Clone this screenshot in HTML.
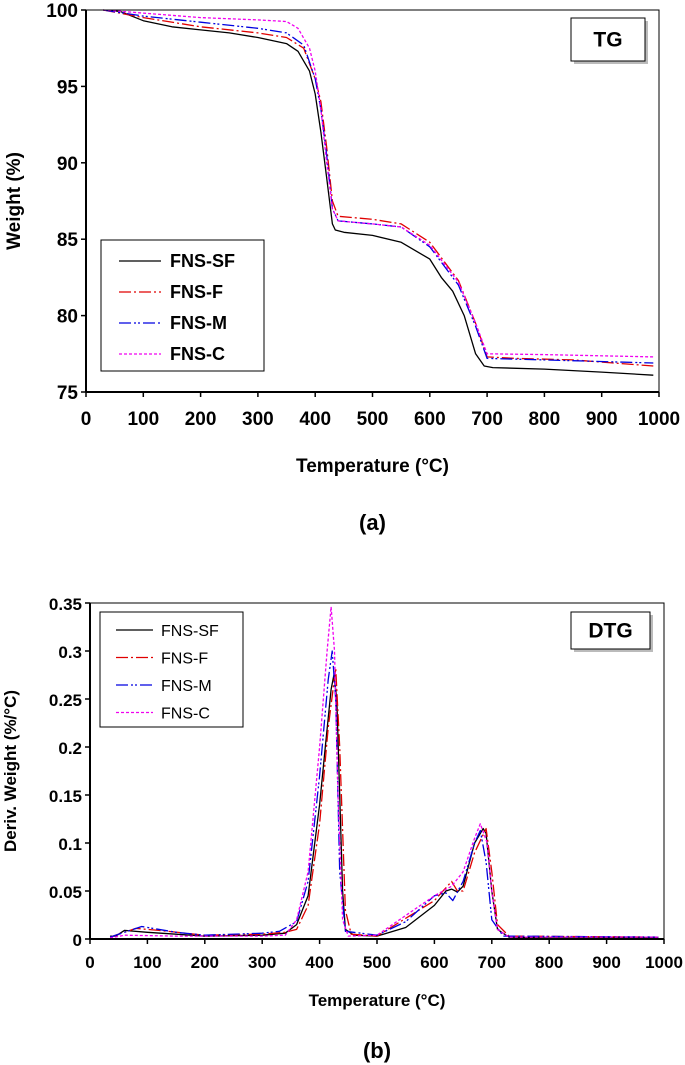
<!DOCTYPE html>
<html><head><meta charset="utf-8"><style>
body{margin:0;background:#fff;}
svg{display:block;font-family:"Liberation Sans",Arial,sans-serif;}
</style></head><body>
<svg id="s" width="685" height="1065" viewBox="0 0 685 1065"></svg>
<script>
const seriesNames=["FNS-SF","FNS-F","FNS-M","FNS-C"];
const seriesColors=["#000","#e00000","#0000e0","#f000f0"];
const seriesDash=["","12,3,2,3","12,3,2,2,2,3","3,2"];
const tgXTicks=[0,100,200,300,400,500,600,700,800,900,1000];
const tgYTicks=[75,80,85,90,95,100];
const dtgYTicks=[0,0.05,0.1,0.15,0.2,0.25,0.3,0.35];
const dtgYLabels=["0","0.05","0.1","0.15","0.2","0.25","0.3","0.35"];
const tgSF=[[30,100],[60,99.9],[100,99.3],[150,98.9],[200,98.7],[250,98.5],[300,98.2],[350,97.8],[370,97.3],[390,96],[400,94.5],[410,92],[420,89],[430,86],[435,85.6],[450,85.45],[500,85.25],[550,84.8],[600,83.7],[620,82.5],[640,81.6],[660,80],[680,77.5],[695,76.7],[710,76.6],[800,76.5],[900,76.3],[990,76.1]];
const tgF=[[30,100],[100,99.5],[200,98.9],[300,98.5],[350,98.2],[380,97.5],[400,95.5],[410,94],[420,91],[430,87.5],[440,86.5],[500,86.3],[550,86],[600,84.8],[650,82.3],[680,79.5],[700,77.3],[750,77.2],[850,77.1],[990,76.7]];
const tgM=[[30,100],[100,99.6],[200,99.2],[300,98.8],[350,98.5],[380,97.7],[400,95.5],[410,93.5],[420,90.5],[430,87],[440,86.2],[500,86],[550,85.8],[600,84.5],[650,82],[680,79.3],[700,77.2],[800,77.1],[990,76.9]];
const tgC=[[30,100],[100,99.8],[200,99.5],[300,99.35],[350,99.25],[370,98.8],[390,97.5],[400,96],[410,93.5],[420,90],[430,87],[440,86.2],[500,86],[550,85.8],[600,84.6],[650,82.2],[680,79.5],[700,77.5],[800,77.45],[990,77.3]];
const dtgSF=[[35,0.003],[45,0.003],[60,0.009],[100,0.007],[150,0.005],[200,0.003],[300,0.004],[340,0.006],[360,0.015],[380,0.045],[400,0.14],[410,0.2],[420,0.26],[425,0.275],[430,0.25],[440,0.05],[445,0.01],[460,0.004],[500,0.003],[550,0.012],[600,0.035],[620,0.05],[630,0.052],[640,0.049],[650,0.055],[670,0.1],[685,0.115],[690,0.11],[700,0.05],[710,0.01],[730,0.002],[800,0.001],[990,0.001]];
const dtgF=[[35,0.002],[80,0.011],[120,0.009],[200,0.004],[300,0.005],[340,0.007],[360,0.01],[380,0.035],[400,0.12],[415,0.22],[428,0.282],[435,0.2],[445,0.03],[455,0.005],[500,0.003],[600,0.04],[630,0.06],[640,0.05],[650,0.05],[670,0.09],[690,0.115],[700,0.07],[710,0.015],[730,0.003],[990,0.002]];
const dtgM=[[35,0.002],[90,0.013],[150,0.007],[200,0.004],[300,0.006],[330,0.008],[360,0.018],[380,0.06],[400,0.17],[415,0.27],[422,0.3],[428,0.25],[435,0.07],[445,0.008],[500,0.004],[550,0.018],[600,0.045],[620,0.048],[632,0.04],[650,0.06],[670,0.1],[680,0.113],[690,0.08],[700,0.02],[720,0.003],[990,0.002]];
const dtgC=[[35,0.001],[60,0.004],[150,0.003],[300,0.003],[340,0.004],[360,0.02],[380,0.07],[400,0.2],[413,0.3],[420,0.346],[426,0.3],[432,0.15],[440,0.02],[450,0.003],[500,0.004],[600,0.045],[630,0.055],[650,0.07],[670,0.105],[680,0.12],[692,0.1],[700,0.05],[710,0.01],[730,0.002],[990,0.002]];

const NS="http://www.w3.org/2000/svg";
const svg=document.getElementById('s');
function mk(tag,attrs,parent,text){const e=document.createElementNS(NS,tag);for(const k in attrs)e.setAttribute(k,attrs[k]);if(text!==undefined)e.textContent=text;(parent||svg).appendChild(e);return e;}

function chart(cfg){
  const g=mk('g',{});
  
  
  const X=v=>cfg.x0+v/1000*(cfg.x1-cfg.x0);
  const Y=v=>cfg.y0+(v-cfg.ymin)/(cfg.ymax-cfg.ymin)*(cfg.y1-cfg.y0);
  cfg.data.forEach((d,i)=>{
    const p=mk('polyline',{points:d.map(q=>X(q[0]).toFixed(1)+','+Y(q[1]).toFixed(1)).join(' '),fill:'none',stroke:seriesColors[i],'stroke-width':1.3,'stroke-dasharray':seriesDash[i],'stroke-linejoin':'round'},g);
    
    
  });
  const fr=mk('rect',{x:cfg.x0,y:cfg.y1,width:cfg.x1-cfg.x0,height:cfg.y0-cfg.y1,fill:'none',stroke:'#000','stroke-width':1},g);
  
  
  mk('line',{x1:cfg.x0,y1:cfg.y0,x2:cfg.x1,y2:cfg.y0,stroke:'#000','stroke-width':2},g);
  mk('line',{x1:cfg.x0,y1:cfg.y0,x2:cfg.x0,y2:cfg.y1,stroke:'#000','stroke-width':2},g);
  tgXTicks.forEach(t=>{
    mk('line',{x1:X(t),y1:cfg.y0,x2:X(t),y2:cfg.y0+5,stroke:'#000','stroke-width':1.5},g);
    const tx=mk('text',{x:X(t),y:cfg.y0+cfg.xtOff,'text-anchor':'middle','font-size':cfg.fs,'font-weight':'bold'},g,t);
    
    
  });
  cfg.yticks.forEach((t,i)=>{
    mk('line',{x1:cfg.x0-5,y1:Y(t),x2:cfg.x0,y2:Y(t),stroke:'#000','stroke-width':1.5},g);
    const tx=mk('text',{x:cfg.x0-8,y:Y(t)+7,'text-anchor':'end','font-size':cfg.fs,'font-weight':'bold'},g,cfg.ylabels?cfg.ylabels[i]:t);
    
    
  });
  const xt=mk('text',{x:(cfg.x0+cfg.x1)/2,y:cfg.xtitleY,'text-anchor':'middle','font-size':cfg.tfs,'font-weight':'bold'},g,'Temperature (°C)');
  
  
  const yt=mk('text',{x:0,y:0,'text-anchor':'middle','font-size':cfg.tfs,'font-weight':'bold',transform:`translate(${cfg.ytitleX},${(cfg.y0+cfg.y1)/2}) rotate(-90)`},g,cfg.ytitle);
  
  
  const b=cfg.badge;
  mk('rect',{x:b.x+3,y:b.y+3,width:b.w,height:b.h,fill:'#bbb'},g);
  const br=mk('rect',{x:b.x,y:b.y,width:b.w,height:b.h,fill:'#fff',stroke:'#000','stroke-width':1},g);
  
  
  mk('text',{x:b.x+b.w/2,y:b.y+b.h/2+7,'text-anchor':'middle','font-size':21,'font-weight':'bold'},g,b.t);
  const L=cfg.legend;
  const lg=mk('g',{},g);
  
  
  mk('rect',{x:L.x,y:L.y,width:L.w,height:L.h,fill:'#fff',stroke:'#000','stroke-width':1},lg);
  seriesNames.forEach((n,i)=>{
    const yy=L.y+L.first+i*L.step;
    mk('line',{x1:L.x+L.lx,y1:yy,x2:L.x+L.lx+L.ll,y2:yy,stroke:seriesColors[i],'stroke-width':1.3,'stroke-dasharray':seriesDash[i]},lg);
    const t=mk('text',{x:L.x+L.tx,y:yy+6,'font-size':L.fs,'font-weight':L.fw},lg,n);
    
    
  });
  const cap=mk('text',{x:(cfg.x0+cfg.x1)/2,y:cfg.capY,'text-anchor':'middle','font-size':22,'font-weight':'bold'},g,cfg.cap);
  
  
}
chart({name:'tg-chart',x0:86,x1:659,y0:392,y1:10,ymin:75,ymax:100,yticks:tgYTicks,fs:19,xtOff:33,tfs:19,xtitleY:472,ytitle:'Weight (%)',ytitleX:20,
  data:[tgSF,tgF,tgM,tgC],badge:{x:571,y:18,w:74,h:43,t:'TG'},
  legend:{x:101,y:240,w:163,h:131,first:21,step:31,lx:18,ll:42,tx:69,fs:18,fw:'bold'},cap:'(a)',capY:530});
chart({name:'dtg-chart',x0:90,x1:664,y0:939,y1:603,ymin:0,ymax:0.35,yticks:dtgYTicks,ylabels:dtgYLabels,fs:17,xtOff:29,tfs:17,xtitleY:1006,ytitle:'Deriv. Weight (%/°C)',ytitleX:16,
  data:[dtgSF,dtgF,dtgM,dtgC],badge:{x:571,y:612,w:79,h:37,t:'DTG'},
  legend:{x:100,y:612,w:143,h:115,first:18,step:27.5,lx:16,ll:37,tx:61,fs:16,fw:'normal'},cap:'(b)',capY:1058});
</script>
</body></html>
